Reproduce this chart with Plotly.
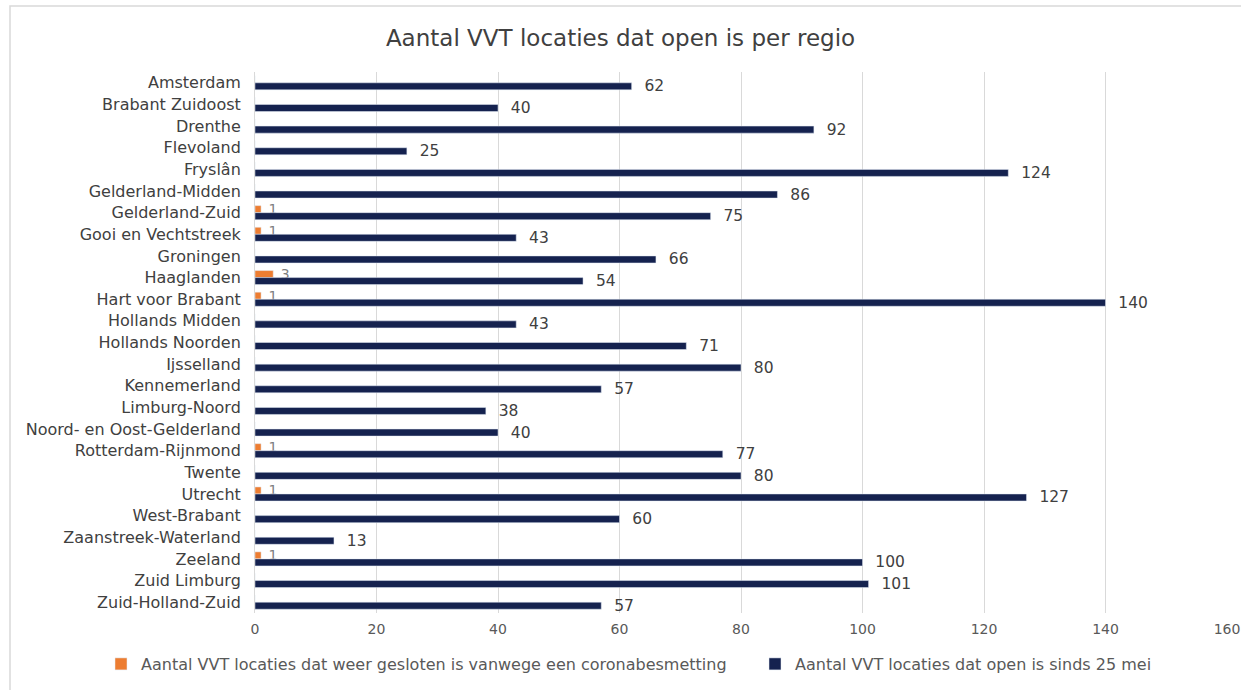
import plotly.graph_objects as go

regions = ["Amsterdam", "Brabant Zuidoost", "Drenthe", "Flevoland", "Fryslân",
           "Gelderland-Midden", "Gelderland-Zuid", "Gooi en Vechtstreek", "Groningen",
           "Haaglanden", "Hart voor Brabant", "Hollands Midden", "Hollands Noorden",
           "Ijsselland", "Kennemerland", "Limburg-Noord", "Noord- en Oost-Gelderland",
           "Rotterdam-Rijnmond", "Twente", "Utrecht", "West-Brabant",
           "Zaanstreek-Waterland", "Zeeland", "Zuid Limburg", "Zuid-Holland-Zuid"]
open_since = [62, 40, 92, 25, 124, 86, 75, 43, 66, 54, 140, 43, 71, 80, 57, 38, 40,
              77, 80, 127, 60, 13, 100, 101, 57]
closed_again = [0, 0, 0, 0, 0, 0, 1, 1, 0, 3, 1, 0, 0, 0, 0, 0, 0, 1, 0, 1, 0, 0, 1, 0, 0]
x_ticks = [0, 20, 40, 60, 80, 100, 120, 140, 160]

name_closed = "Aantal VVT locaties dat weer gesloten is vanwege een coronabesmetting"
name_open = "Aantal VVT locaties dat open is sinds 25 mei"

FONT = "DejaVu Sans"

W, H = 1241, 690
L, R, T, B = 255, 14, 72, 77
PW, PH = W - L - R, H - T - B


def px_x(p):
    return (p - L) / PW


def px_y(p):
    return (H - B - p) / PH


fig = go.Figure()
fig.add_trace(go.Bar(
    y=regions, x=closed_again, orientation="h", name=name_closed,
    marker=dict(color="#ED7D31"), legend="legend",
    text=["\u00a0" + str(v) if v else "" for v in closed_again], textposition="outside",
    constraintext="none",
    textfont=dict(family=FONT, size=14, color="#7f7f7f"), cliponaxis=False,
))
fig.add_trace(go.Bar(
    y=regions, x=open_since, orientation="h", name=name_open,
    marker=dict(color="#15224F"), legend="legend2",
    text=["\u00a0\u00a0" + str(v) for v in open_since], textposition="outside",
    constraintext="none",
    textfont=dict(family=FONT, size=15.5, color="#404040"), cliponaxis=False,
))

fig.update_layout(
    width=W, height=H,
    paper_bgcolor="white", plot_bgcolor="white",
    barmode="group", bargap=0.35, bargroupgap=0.0,
    margin=dict(l=L, r=R, t=T, b=B, autoexpand=False),
    title=dict(text="Aantal VVT locaties dat open is per regio", x=0.5, xref="container",
               xanchor="center", y=1 - 38 / H, yref="container", yanchor="middle",
               font=dict(family=FONT, size=23, color="#404040")),
    font=dict(family=FONT, color="#595959"),
    xaxis=dict(range=[0, 160], tickvals=x_ticks, showgrid=True, gridcolor="#d9d9d9",
               gridwidth=1, zeroline=False, showline=False,
               tickfont=dict(family=FONT, size=14, color="#595959"), ticks="",
               ticklabelstandoff=6, ticklabeloverflow="allow"),
    yaxis=dict(autorange="reversed", showgrid=False, showline=True, linecolor="#d9d9d9",
               ticks="", tickfont=dict(family=FONT, size=16, color="#404040"),
               ticklabelstandoff=10),
    legend=dict(orientation="h", x=px_x(101), xanchor="left", y=px_y(664),
                yanchor="middle", font=dict(family=FONT, size=16, color="#595959"),
                itemwidth=30),
    legend2=dict(orientation="h", x=px_x(755), xanchor="left", y=px_y(664),
                 yanchor="middle", font=dict(family=FONT, size=16, color="#595959"),
                 itemwidth=30),
    shapes=[dict(type="rect", xref="paper", yref="paper",
                 x0=px_x(10), x1=px_x(1300), y0=px_y(720), y1=px_y(6),
                 line=dict(color="#d9d9d9", width=1.5), fillcolor="rgba(0,0,0,0)",
                 layer="below")],
    showlegend=True,
)

fig.write_html("out.html", config={"displayModeBar": False},
               post_script="document.body.style.margin='0';")
